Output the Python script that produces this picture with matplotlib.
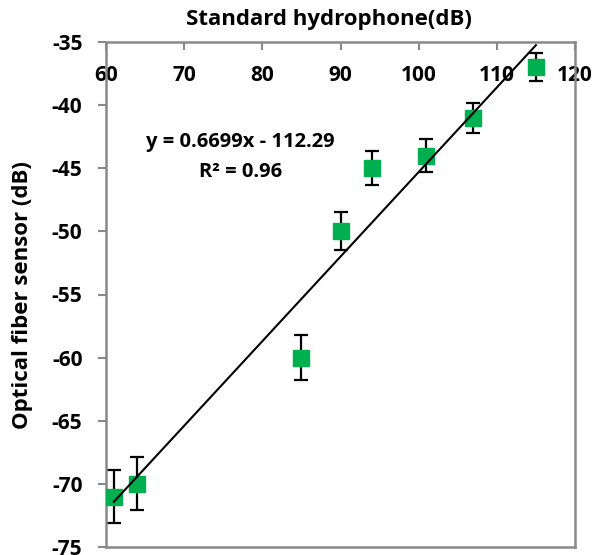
import matplotlib
matplotlib.use("Agg")
import matplotlib.pyplot as plt
import numpy as np

plt.rcParams['font.family'] = ['Open Sans', 'DejaVu Sans']
plt.rcParams['font.weight'] = 'bold'
plt.rcParams['axes.unicode_minus'] = False

# Data
hydrophone_db = [61, 64, 85, 90, 94, 101, 107, 115]
sensor_db = [-71, -70, -60, -50, -45, -44, -41, -37]
sensor_err = [2.1, 2.1, 1.8, 1.5, 1.35, 1.3, 1.2, 1.1]
fit_slope = 0.6699
fit_intercept = -112.29
fit_r2 = 0.96
x_ticks = [60, 70, 80, 90, 100, 110, 120]
y_ticks = [-35, -40, -45, -50, -55, -60, -65, -70, -75]

W, H = 597, 555
fig = plt.figure(figsize=(W / 100, H / 100), dpi=100)
ax = fig.add_axes([106 / W, 1 - 547 / H, (575 - 106) / W, (547 - 42) / H])

green = '#00B050'
gray = '#898989'

ax.errorbar(hydrophone_db, sensor_db, yerr=sensor_err, fmt='none', ecolor='black',
            elinewidth=1.6, capsize=5, capthick=1.6, zorder=2)
ax.plot(hydrophone_db, sensor_db, 's', color=green, markersize=11, zorder=3)

xf = np.array([min(hydrophone_db), max(hydrophone_db)])
ax.plot(xf, fit_slope * xf + fit_intercept, color='black', lw=1.5, zorder=4)

ax.set_xlim(60, 120)
ax.set_ylim(-75, -35)
ax.set_xticks(x_ticks)
ax.set_yticks(y_ticks)
ax.xaxis.tick_top()
ax.tick_params(axis='x', direction='in', length=6, width=1.5, color=gray, pad=-32,
               labelsize=15)
ax.tick_params(axis='y', direction='out', length=6, width=1.5, color=gray, pad=11,
               labelsize=15)
for s in ax.spines.values():
    s.set_color(gray)
    s.set_linewidth(1.8)

ax.text(240 / W, 1 - 142 / H, 'y = 0.6699x - 112.29', transform=fig.transFigure,
        ha='center', va='center', fontsize=14.5, fontweight='bold')
ax.text(241 / W, 1 - 172 / H, 'R² = 0.96', transform=fig.transFigure,
        ha='center', va='center', fontsize=14.5, fontweight='bold')

fig.text(329 / W, 1 - 20 / H, 'Standard hydrophone(dB)', ha='center', va='center',
         fontsize=16, fontweight='bold')
fig.text(23 / W, 1 - 295 / H, 'Optical fiber sensor (dB)', ha='center', va='center',
         rotation=90, fontsize=16, fontweight='bold')

fig.savefig('out.png', dpi=100)
